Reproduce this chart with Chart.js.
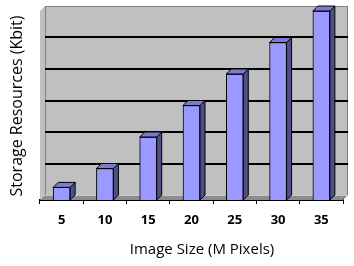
<!DOCTYPE html>
<html>
<head>
<meta charset="utf-8">
<script src="https://cdn.jsdelivr.net/npm/chart.js@4/dist/chart.umd.min.js"></script>
<style>
html,body{margin:0;padding:0;background:#fff;}
#wrap{width:354px;height:266px;}
</style>
</head>
<body>
<div id="wrap"><canvas id="c" width="354" height="266"></canvas></div>
<script>
const categories = ["5", "10", "15", "20", "25", "30", "35"];
const storageValues = [0.4, 1, 2, 3, 4, 5, 6];
const yTitle = "Storage Resources (Kbit)";
const xTitle = "Image Size (M Pixels)";

const DEPTH = 5;
const FONT = "'Open Sans', 'DejaVu Sans', sans-serif";

const threeD = {
  id: 'threeD',
  beforeDatasetsDraw(chart) {
    const {ctx, chartArea: a, scales} = chart;
    const y = scales.y, d = DEPTH;
    ctx.save();
    // back wall
    ctx.fillStyle = '#C0C0C0';
    ctx.fillRect(a.left + d, a.top - d, a.right - a.left, a.bottom - a.top);
    // left wall
    ctx.beginPath();
    ctx.moveTo(a.left, a.top);
    ctx.lineTo(a.left + d, a.top - d);
    ctx.lineTo(a.left + d, a.bottom - d);
    ctx.lineTo(a.left, a.bottom);
    ctx.closePath();
    ctx.fill();
    ctx.strokeStyle = '#808080';
    ctx.lineWidth = 1;
    ctx.strokeRect(a.left + d + 0.5, a.top - d + 0.5, a.right - a.left - 1, a.bottom - a.top);
    // gridlines on back wall
    ctx.strokeStyle = '#000';
    ctx.lineWidth = 2;
    y.ticks.forEach(t => {
      if (t.value <= 0 || t.value >= y.max) return;
      const py = Math.round(y.getPixelForValue(t.value)) - d;
      ctx.beginPath();
      ctx.moveTo(a.left + d, py);
      ctx.lineTo(a.right + d, py);
      ctx.stroke();
    });
    // floor
    ctx.beginPath();
    ctx.moveTo(a.left, a.bottom);
    ctx.lineTo(a.right, a.bottom);
    ctx.lineTo(a.right + d, a.bottom - d);
    ctx.lineTo(a.left + d, a.bottom - d);
    ctx.closePath();
    ctx.fillStyle = '#8C8C8C';
    ctx.fill();
    ctx.strokeStyle = '#C8C8C8';
    ctx.lineWidth = 1;
    ctx.beginPath();
    ctx.moveTo(a.left + d, a.bottom - d + 0.5);
    ctx.lineTo(a.right + d, a.bottom - d + 0.5);
    ctx.stroke();
    ctx.restore();
  },
  afterDatasetsDraw(chart) {
    const {ctx} = chart;
    const d = DEPTH;
    ctx.save();
    ctx.lineWidth = 1;
    ctx.strokeStyle = '#000';
    chart.getDatasetMeta(0).data.forEach(bar => {
      const p = bar.getProps(['x', 'y', 'base', 'width'], true);
      const l = p.x - p.width / 2, r = p.x + p.width / 2;
      // side face
      ctx.beginPath();
      ctx.moveTo(r, p.y);
      ctx.lineTo(r + d, p.y - d);
      ctx.lineTo(r + d, p.base - d);
      ctx.lineTo(r, p.base);
      ctx.closePath();
      ctx.fillStyle = '#4F4F85';
      ctx.fill();
      ctx.stroke();
      // top face
      ctx.beginPath();
      ctx.moveTo(l, p.y);
      ctx.lineTo(l + d, p.y - d);
      ctx.lineTo(r + d, p.y - d);
      ctx.lineTo(r, p.y);
      ctx.closePath();
      ctx.fillStyle = '#7A7AD0';
      ctx.fill();
      ctx.stroke();
    });
    ctx.restore();
  },
  afterDraw(chart) {
    const {ctx} = chart;
    ctx.save();
    ctx.fillStyle = '#000';
    ctx.textAlign = 'center';
    ctx.textBaseline = 'middle';
    ctx.font = '15px ' + FONT;
    ctx.fillText(xTitle, 202, 250);
    ctx.font = '16px ' + FONT;
    ctx.translate(17, 106);
    ctx.rotate(-Math.PI / 2);
    ctx.fillText(yTitle, 0, 0);
    ctx.restore();
  }
};

new Chart(document.getElementById('c'), {
  type: 'bar',
  data: {
    labels: categories,
    datasets: [{
      data: storageValues,
      backgroundColor: '#9999FF',
      borderColor: '#000',
      borderWidth: 1,
      barThickness: 17
    }]
  },
  options: {
    responsive: false,
    animation: false,
    events: [],
    layout: {padding: {left: 40, right: 11, top: 11, bottom: 0}},
    plugins: {legend: {display: false}, tooltip: {enabled: false}},
    scales: {
      x: {
        offset: true,
        grid: {display: true, drawOnChartArea: false, drawTicks: true, tickLength: 4, color: '#000', offset: true},
        border: {display: true, color: '#000', width: 2},
        ticks: {color: '#000', font: {family: FONT, size: 13, weight: 'bold'}, padding: 8},
        afterFit(scale) { scale.height = 66; }
      },
      y: {
        display: false,
        min: 0,
        max: 6,
        ticks: {stepSize: 1}
      }
    }
  },
  plugins: [threeD]
});
</script>
</body>
</html>
